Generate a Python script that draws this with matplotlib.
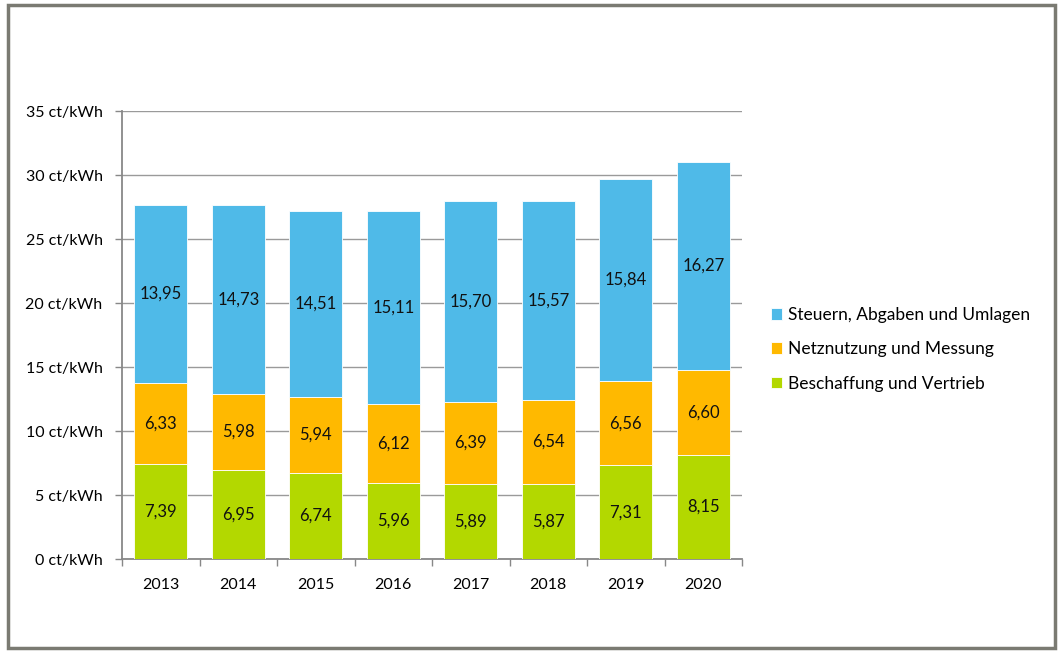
import numpy as np
from matplotlib import pyplot as plt
from matplotlib.patches import Rectangle

years = ['2013', '2014', '2015', '2016', '2017', '2018', '2019', '2020']
beschaffung = [7.39, 6.95, 6.74, 5.96, 5.89, 5.87, 7.31, 8.15]
netz = [6.33, 5.98, 5.94, 6.12, 6.39, 6.54, 6.56, 6.60]
steuern = [13.95, 14.73, 14.51, 15.11, 15.70, 15.57, 15.84, 16.27]

series = [
    ('Beschaffung und Vertrieb', beschaffung, '#B3D800'),
    ('Netznutzung und Messung', netz, '#FFB900'),
    ('Steuern, Abgaben und Umlagen', steuern, '#4FBAE8'),
]

plt.rcParams['font.family'] = ['Lato', 'DejaVu Sans']
plt.rcParams['font.size'] = 11.5

fig = plt.figure(figsize=(10.62, 6.53), dpi=100)
ax = fig.add_axes([0.1149, 0.1439, 0.5838, 0.6861])

x = np.arange(len(years))
bottom = np.zeros(len(years))
handles = []
for name, vals, col in series:
    vals = np.array(vals)
    b = ax.bar(x, vals, 0.68, bottom=bottom, color=col, edgecolor='white',
               linewidth=0.6, label=name, zorder=3)
    handles.append(b)
    for xi, v, b0 in zip(x, vals, bottom):
        ax.text(xi, b0 + v / 2, f'{v:.2f}'.replace('.', ','), ha='center',
                va='center', fontsize=12, color='#111111', zorder=4)
    bottom += vals

ax.set_xlim(-0.5, len(years) - 0.5)
ax.set_ylim(0, 35)
ax.set_yticks(np.arange(0, 36, 5))
ax.set_yticklabels([f'{v} ct/kWh' for v in range(0, 36, 5)])
ax.set_xticks(x)
ax.set_xticklabels(years)
ax.set_xticks(np.arange(-0.5, len(years), 1), minor=True)
ax.tick_params(axis='x', which='major', length=0, pad=14)
ax.tick_params(axis='x', which='minor', length=5, color='#888888', width=1)
ax.tick_params(axis='y', length=5, color='#888888', width=1, pad=9)
ax.grid(axis='y', color='#9A9A9A', linewidth=1, zorder=0)
for s in ['top', 'right']:
    ax.spines[s].set_visible(False)
for s in ['left', 'bottom']:
    ax.spines[s].set_color('#888888')
    ax.spines[s].set_linewidth(1.3)

leg = fig.legend(handles[::-1], [h.get_label() for h in handles[::-1]],
                 loc='center left', bbox_to_anchor=(0.711, 0.465),
                 frameon=False, handlelength=0.65, handleheight=0.65,
                 handletextpad=0.35, labelspacing=1.05, fontsize=12.5)

fig.patches.append(Rectangle((0.0075, 0.008), 0.986, 0.984, transform=fig.transFigure,
                             fill=False, edgecolor='#7A7A72', linewidth=2.5))

fig.savefig('out.png', dpi=100)
